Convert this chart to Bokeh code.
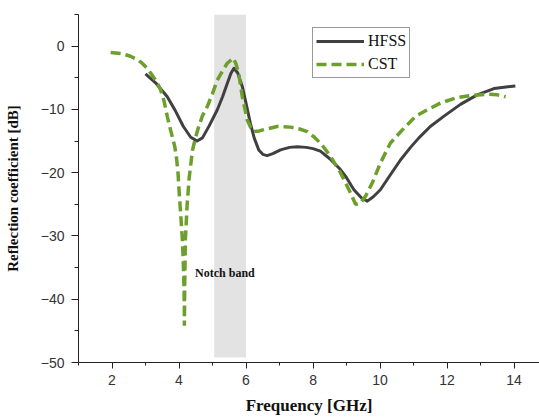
from bokeh.plotting import figure
from bokeh.models import FixedTicker, Legend, LegendItem, Label
from bokeh.embed import file_html
from bokeh.resources import INLINE

# ---- data ----
hfss_f = [3.0, 3.3, 3.65, 3.9, 4.13, 4.35, 4.54, 4.7, 4.9, 5.14, 5.3, 5.44, 5.55, 5.64,
          5.75, 5.89, 6.0, 6.13, 6.25, 6.38, 6.5, 6.63, 6.8, 7.03, 7.3, 7.53, 7.8, 8.0,
          8.22, 8.5, 8.82, 9.0, 9.22, 9.45, 9.62, 9.8, 10.01, 10.3, 10.61, 10.91, 11.16,
          11.5, 11.9, 12.4, 12.9, 13.4, 13.7, 14.04]
hfss_db = [-4.4, -5.8, -8.0, -10.3, -12.7, -14.4, -15.0, -14.5, -12.6, -10.1, -8.0, -5.9,
           -4.3, -3.5, -4.2, -6.4, -9.0, -12.2, -14.6, -16.4, -17.1, -17.3, -17.0, -16.4,
           -16.0, -15.9, -16.0, -16.2, -16.6, -17.8, -19.5, -20.8, -22.7, -24.0, -24.5,
           -23.8, -22.7, -20.4, -18.0, -16.0, -14.5, -12.7, -11.1, -9.2, -7.7, -6.7, -6.5, -6.3]

cst_f = [1.96, 2.3, 2.55, 2.75, 2.9, 3.05, 3.2, 3.35, 3.45, 3.55, 3.65, 3.72, 3.8, 3.87,
         3.92, 3.97, 4.0, 4.05, 4.1, 4.13, 4.15, 4.16, 4.16, 4.17, 4.19, 4.24, 4.3, 4.4,
         4.5, 4.59, 4.7, 4.84, 5.0, 5.14, 5.3, 5.44, 5.62, 5.7, 5.78, 5.89, 6.04, 6.15,
         6.23, 6.4, 6.53, 6.93, 7.33, 7.6, 7.83, 8.02, 8.25, 8.52, 8.82, 9.12, 9.27, 9.4,
         9.57, 9.77, 10.01, 10.31, 10.71, 11.06, 11.4, 11.8, 12.25, 12.7, 13.2, 13.5, 13.75]
cst_db = [-1.0, -1.2, -1.6, -2.1, -2.7, -3.5, -4.6, -5.8, -6.9, -8.6, -11.1, -12.7, -14.3,
          -15.8, -17.4, -20.0, -22.7, -26.5, -30.6, -34.5, -38.4, -41.5, -44.2, -38.0,
          -30.6, -25.3, -21.0, -16.5, -14.3, -12.7, -11.0, -9.6, -7.5, -5.4, -3.9, -2.7,
          -1.9, -2.8, -4.3, -8.0, -11.7, -13.0, -13.5, -13.4, -13.2, -12.7, -12.8, -13.1,
          -13.5, -14.3, -15.5, -17.4, -20.0, -23.2, -25.0, -24.9, -23.7, -21.6, -18.5,
          -15.3, -13.0, -11.1, -10.1, -9.0, -8.2, -7.8, -7.6, -7.7, -8.0]

notch_band = [5.05, 6.0]
notch_bottom = -49.2
notch_label = "Notch band"

x_major = [2, 4, 6, 8, 10, 12, 14]
x_minor = [1, 3, 5, 7, 9, 11, 13, 15]
y_major = [-50, -40, -30, -20, -10, 0]
y_minor = [-45, -35, -25, -15, -5, 5]

p = figure(width=539, height=417, output_backend="svg", toolbar_location=None,
           x_range=(1, 14.76), y_range=(-50, 5),
           min_border_left=78, min_border_top=14, min_border_bottom=54, min_border_right=0)
p.outline_line_color = None
p.xgrid.visible = False
p.ygrid.visible = False
p.background_fill_color = "white"

# notch band
p.quad(left=[notch_band[0]], right=[notch_band[1]], bottom=[notch_bottom], top=[5],
       fill_color="#e3e3e3", line_color=None)

r_hfss = p.line(hfss_f, hfss_db, line_color="#404040", line_width=3, line_join="round")
r_cst = p.line(cst_f, cst_db, line_color="#6c9f2b", line_width=3.5, line_dash="10 5")

p.add_layout(Label(x=4.48, y=-35.8, text=notch_label, text_font="Liberation Serif",
                   text_font_style="bold", text_font_size="12px", text_color="#111111",
                   text_baseline="middle", text_align="left"))

for ax, maj, mnr in ((p.xaxis, x_major, x_minor), (p.yaxis, y_major, y_minor)):
    ax.ticker = FixedTicker(ticks=maj, minor_ticks=mnr)
    ax.axis_line_color = "#222222"
    ax.major_tick_line_color = "#222222"
    ax.minor_tick_line_color = "#222222"
    ax.major_tick_in = 0
    ax.minor_tick_in = 0
    ax.major_label_text_font = "Liberation Sans"
    ax.major_label_text_font_size = "14px"
    ax.major_label_text_color = "#333333"
    ax.axis_label_text_font = "Liberation Serif"
    ax.axis_label_text_font_style = "bold"
    ax.axis_label_text_color = "#111111"

p.xaxis.major_tick_out = 6
p.xaxis.minor_tick_out = 3
p.yaxis.major_tick_out = 7
p.yaxis.minor_tick_out = 4
p.xaxis.major_label_standoff = 6
p.yaxis.major_label_standoff = 7
p.xaxis.axis_label = "Frequency [GHz]"
p.yaxis.axis_label = "Reflection coefficient [dB]"
p.xaxis.axis_label_text_font_size = "17px"
p.yaxis.axis_label_text_font_size = "15px"
p.xaxis.axis_label_standoff = 8
p.yaxis.axis_label_standoff = 17

legend = Legend(items=[LegendItem(label="HFSS", renderers=[r_hfss]),
                       LegendItem(label="CST", renderers=[r_cst])],
                location=(234, 284), padding=3, margin=0, spacing=3,
                glyph_width=48, glyph_height=20, label_height=20, label_standoff=4,
                label_text_font="Liberation Serif", label_text_font_size="16px",
                label_text_color="#111111", border_line_color="#333333",
                border_line_width=1, background_fill_alpha=1)
p.add_layout(legend, "center")

open("out.html", "w").write(file_html(p, INLINE))
